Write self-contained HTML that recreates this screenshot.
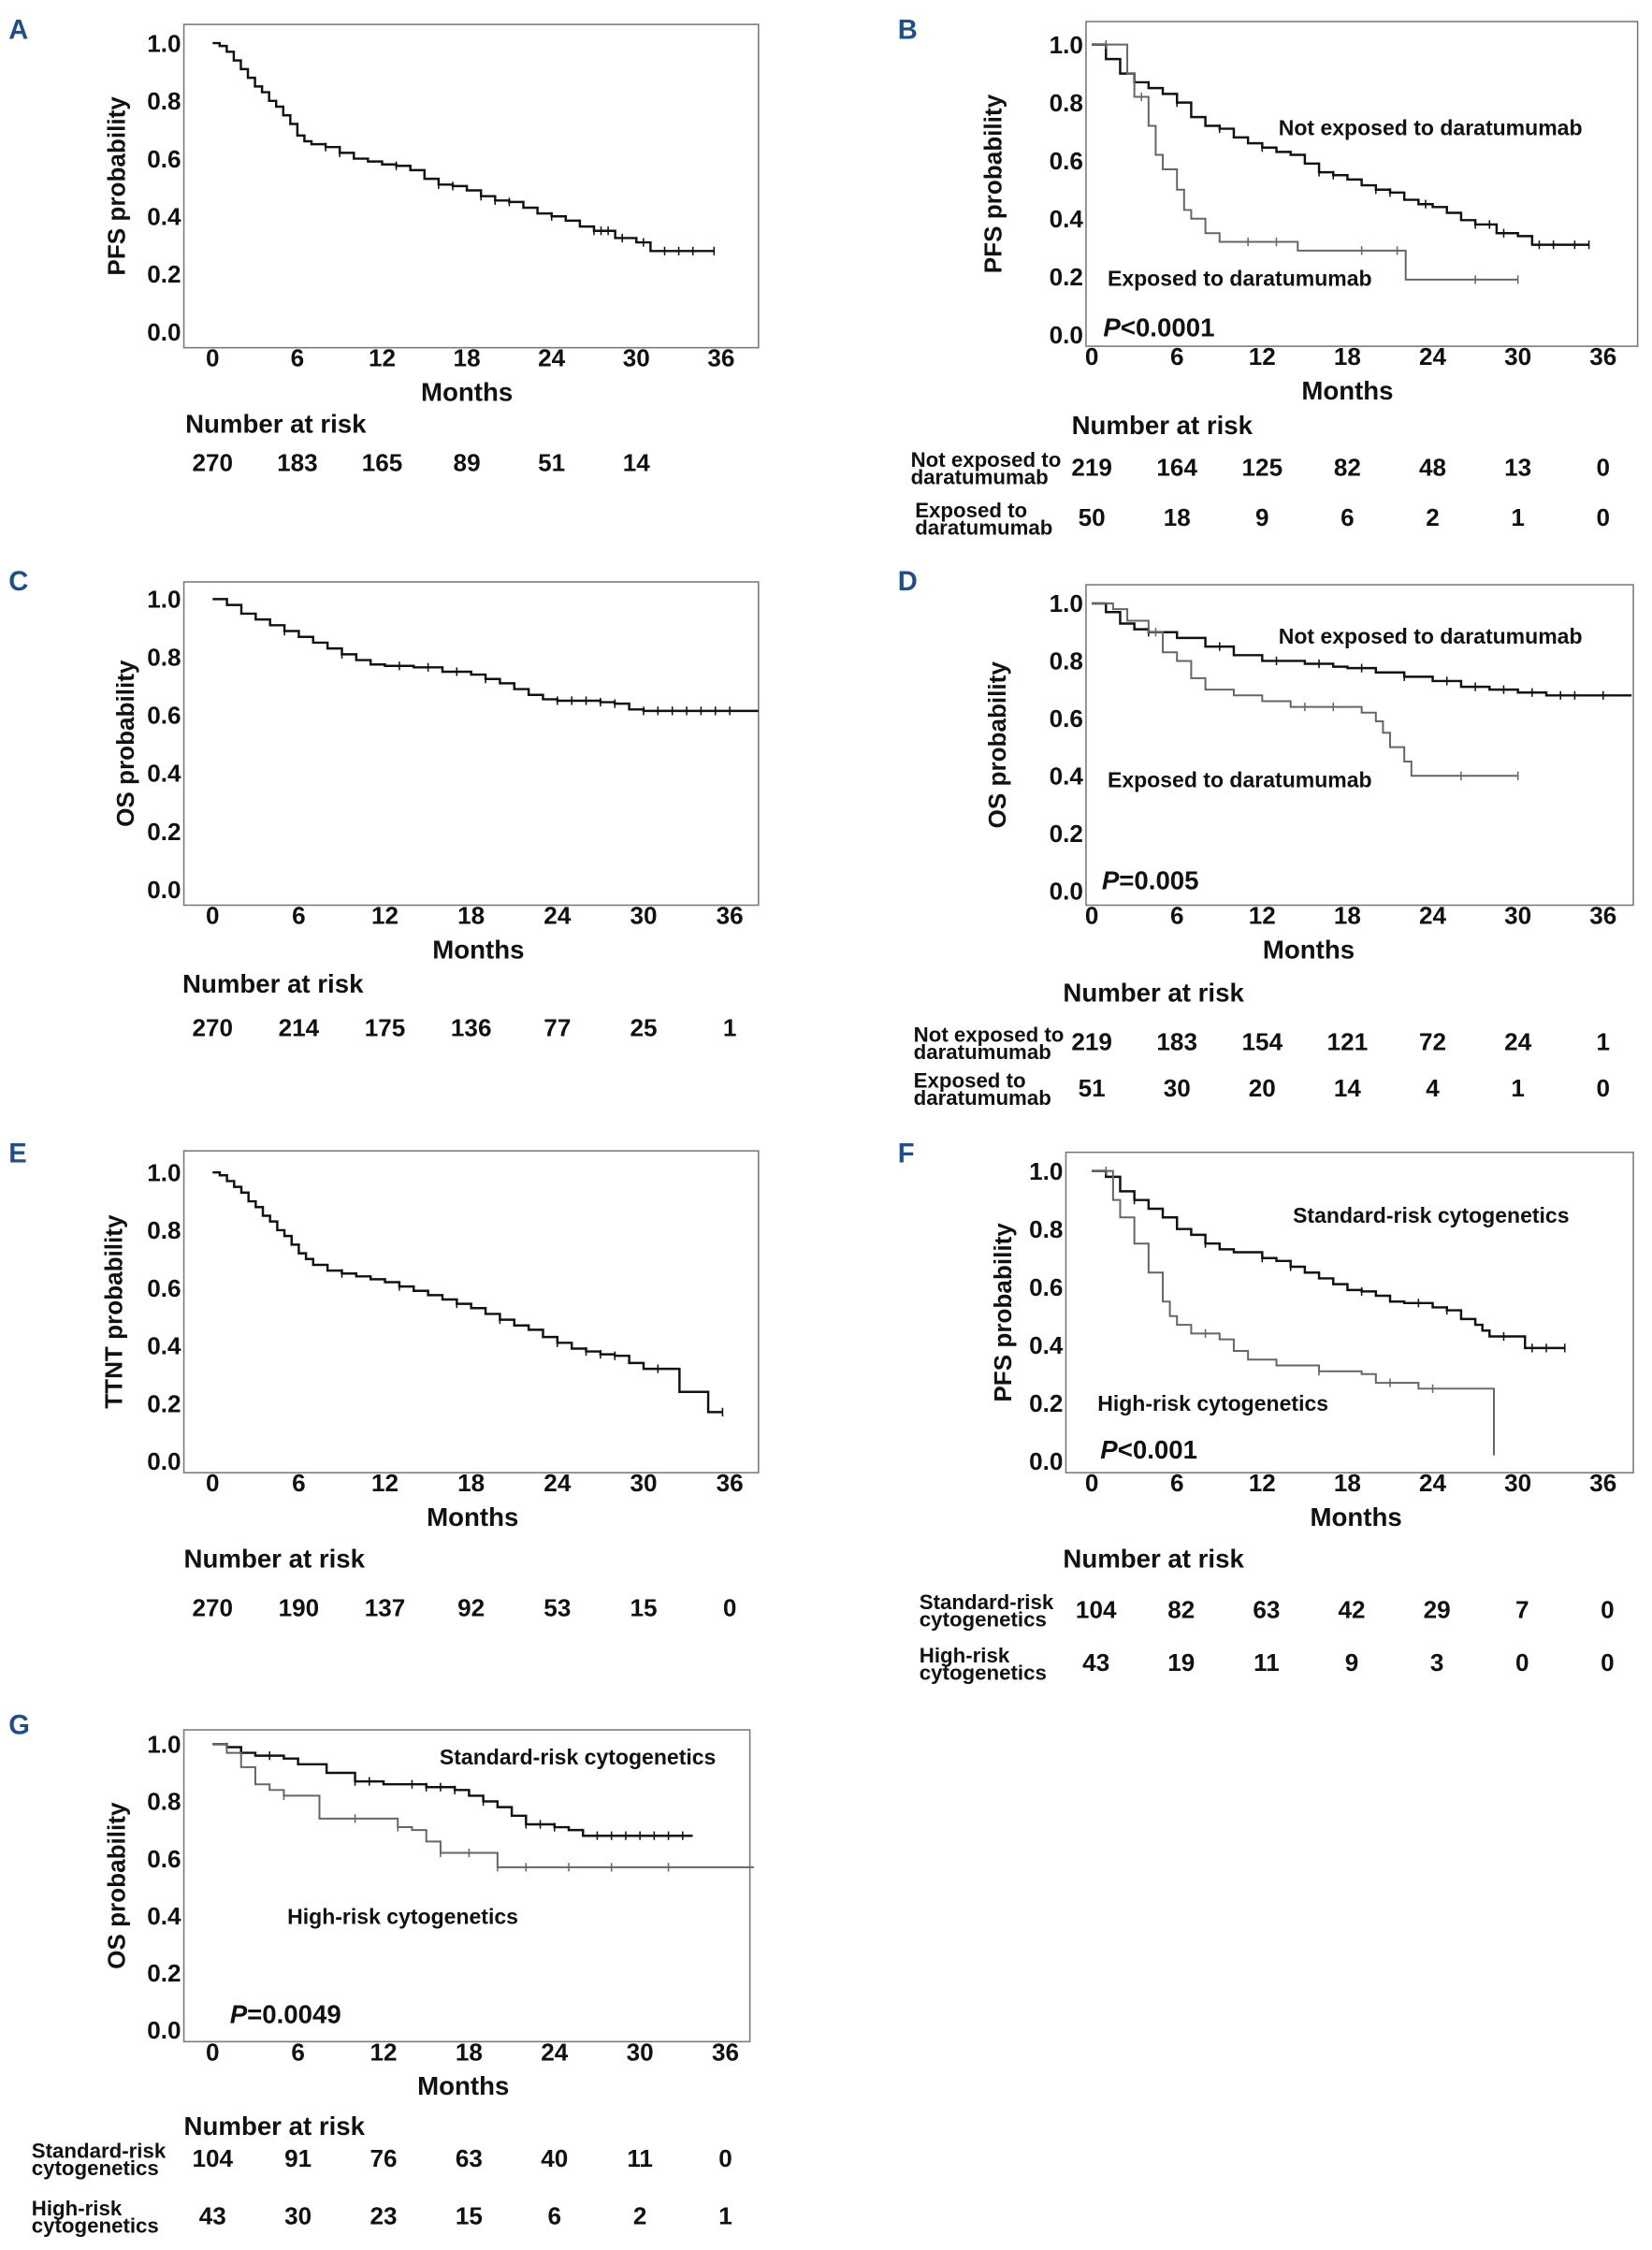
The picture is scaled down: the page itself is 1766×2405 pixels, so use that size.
<!DOCTYPE html>
<html><head><meta charset="utf-8"><style>
html,body{margin:0;padding:0;background:#fff;}
svg{display:block;}
.t{font-family:"Liberation Sans Narrow","Liberation Sans",sans-serif;font-weight:bold;fill:#111;}
.ti{font-family:"Liberation Sans",sans-serif;font-weight:bold;fill:#111;}
.lt{font-family:"Liberation Sans",sans-serif;font-weight:bold;fill:#1f4e8c;}
</style></head><body>
<svg id="fig" width="1766" height="2405" viewBox="0 0 1150 1566" preserveAspectRatio="none" xmlns="http://www.w3.org/2000/svg"></svg>
<script>
// ---- data ----
const monthTicks = [0,6,12,18,24,30,36];
const probTicks = [0,0.2,0.4,0.6,0.8,1.0];
const probTickLabels = ["0.0","0.2","0.4","0.6","0.8","1.0"];

const aT = [0,0.5,1,1.5,2,2.5,3,3.5,4,4.5,5,5.5,6,6.5,7,8,9,10,11,12,13,14,15,16,17,18,19,20,21,22,23,24,25,26,27,28.5,30,31,35.5];
const aS = [1,0.99,0.97,0.94,0.91,0.88,0.85,0.83,0.80,0.78,0.75,0.72,0.68,0.66,0.65,0.64,0.62,0.60,0.59,0.58,0.575,0.56,0.53,0.51,0.505,0.49,0.47,0.455,0.45,0.43,0.41,0.40,0.385,0.365,0.35,0.325,0.31,0.28,0.28];
const aC = [8,9,13,16,17,19,20,21,24,27,27.5,28,29,30.5,32,33,34,35.5];
const aRisk = [270,183,165,89,51,14];

const bNT = [0,1,2,3,4,5,6,7,8,9,10,11,12,13,14,15,16,17,18,19,20,21,22,23,24,25,26,27,28.5,30,31,35];
const bNS = [1,0.95,0.9,0.87,0.85,0.83,0.80,0.75,0.72,0.71,0.68,0.66,0.645,0.63,0.62,0.59,0.56,0.55,0.535,0.515,0.50,0.49,0.465,0.45,0.44,0.42,0.395,0.38,0.35,0.34,0.31,0.31];
const bNC = [6,9,12,16,17,20,21,23.5,27,28,29,31.5,32.5,34,35];
const bET = [0,2,2.5,3,4,4.5,5,6,6.5,7,8,9,14.5,22,22.1,30];
const bES = [1,1,0.9,0.82,0.72,0.62,0.57,0.5,0.43,0.40,0.35,0.32,0.29,0.29,0.19,0.19];
const bEC = [1,3.5,11,13,19,21.5,27,30];
const bRiskN = [219,164,125,82,48,13,0];
const bRiskE = [50,18,9,6,2,1,0];

const cT = [0,1,2,3,4,5,6,7,8,9,10,11,12,14,16,18,19,20,21,22,23,24,27,28,29,30,38];
const cS = [1,0.98,0.95,0.93,0.91,0.89,0.87,0.85,0.83,0.81,0.79,0.775,0.77,0.765,0.75,0.74,0.725,0.71,0.69,0.67,0.655,0.65,0.645,0.64,0.62,0.615,0.615];
const cC = [5,9,13,15,17,19,24,25,26,27,28,30,31,32,33,34,35,36];
const cRisk = [270,214,175,136,77,25,1];

const dNT = [0,1,2,3,4,6,8,10,12,15,17,18,20,22,24,26,28,30,32,38];
const dNS = [1,0.97,0.93,0.91,0.9,0.88,0.85,0.82,0.80,0.79,0.78,0.775,0.76,0.745,0.73,0.71,0.70,0.69,0.68,0.68];
const dNC = [4,9,13,16,19,22,25,27,29,31,33,34,36];
const dET = [0,1.5,2.5,4,5,6,7,8,10,12,14,17,19,20,20.5,21,22,22.5,30];
const dES = [1,0.98,0.94,0.9,0.83,0.8,0.74,0.70,0.68,0.66,0.64,0.64,0.62,0.59,0.55,0.50,0.45,0.40,0.40];
const dEC = [4.5,15,17,26,30];
const dRiskN = [219,183,154,121,72,24,1];
const dRiskE = [51,30,20,14,4,1,0];

const eT = [0,0.5,1,1.5,2,2.5,3,3.5,4,4.5,5,5.5,6,6.5,7,8,9,10,11,12,13,14,15,16,17,18,19,20,21,22,23,24,25,26,27,28,29,30,32.5,34.5,35.5];
const eS = [1,0.99,0.97,0.95,0.93,0.90,0.88,0.85,0.83,0.80,0.78,0.75,0.72,0.70,0.68,0.66,0.65,0.64,0.63,0.62,0.605,0.59,0.575,0.56,0.545,0.53,0.51,0.49,0.47,0.455,0.43,0.41,0.39,0.38,0.37,0.365,0.34,0.32,0.24,0.17,0.17];
const eC = [9,13,17,20,24,26,27,28,31,35.5];
const eRisk = [270,190,137,92,53,15,0];

const fST = [0,1,2,3,4,5,6,7,8,9,10,12,13,14,15,16,17,18,19,20,21,22,24,25,26,27,27.5,28,30.5,33.3];
const fSS = [1,0.98,0.93,0.90,0.87,0.84,0.80,0.78,0.75,0.73,0.72,0.70,0.69,0.67,0.65,0.63,0.61,0.59,0.585,0.57,0.55,0.545,0.53,0.52,0.49,0.47,0.45,0.43,0.39,0.39];
const fSC = [3,8,12,14,19,23,25,29,31,32,33.3];
const fHT = [0,1,1.5,2,3,4,5,5.5,6,7,9,10,11,13,16,19,20,23,28.3,28.31];
const fHS = [1,1,0.9,0.84,0.75,0.65,0.55,0.5,0.47,0.44,0.42,0.38,0.35,0.33,0.31,0.30,0.27,0.25,0.25,0.02];
const fHC = [1,8,16,21,24];
const fRiskS = [104,82,63,42,29,7,0];
const fRiskH = [43,19,11,9,3,0,0];

const gST = [0,1,2,3,5,6,8,10,12,15,17,18,19,20,21,22,24,25,26,33.7];
const gSS = [1,0.99,0.97,0.96,0.95,0.93,0.90,0.87,0.86,0.85,0.84,0.82,0.80,0.78,0.75,0.72,0.71,0.70,0.68,0.68];
const gSC = [1,4,10,11,14,15,16,17,19,22,23,24,27,28,29,30,31,32,33];
const gHT = [0,1,2,3,4,5,7,7.5,10,12,13,14,15,16,18,20,22,38];
const gHS = [1,0.97,0.92,0.86,0.84,0.82,0.82,0.74,0.74,0.74,0.71,0.70,0.66,0.62,0.62,0.57,0.57,0.57];
const gHC = [5,10,13,16,18,20,22,25,28,32];
const gRiskS = [104,91,76,63,40,11,0];
const gRiskH = [43,30,23,15,6,2,1];

// ---- drawing ----
const svg = document.getElementById('fig');
const NS = 'http://www.w3.org/2000/svg';
function el(tag, attrs, parent){
  const e = document.createElementNS(NS, tag);
  for (const k in attrs) e.setAttribute(k, attrs[k]);
  (parent||svg).appendChild(e);
  return e;
}
function txt(x,y,s,cls,size,anchor,parent,name){
  const t = el('text',{x:x,y:y,class:cls,'font-size':size,'text-anchor':anchor||'middle'},parent);
  t.textContent = s;
  
  
  return t;
}
function stepAt(T,S,m){let v=S[0];for(let i=0;i<T.length;i++){if(T[i]<=m)v=S[i];}return v;}

function panel(p){
  const g = el('g',{});
  
  
  const xs = m => p.x0 + (m/36)*(p.x36-p.x0);
  const ys = v => p.y0 - v*(p.y0-p.y1);
  txt(p.lx, p.ly, p.letter, 'lt', 19, 'start', g, 'panel-letter');
  const box = el('rect',{x:p.bx,y:p.by,width:p.bw,height:p.bh,fill:'none',stroke:'#777','stroke-width':1},g);
  
  
  probTicks.forEach((v,i)=>txt(p.bx-2, ys(v)+6, probTickLabels[i], 't', 17, 'end', g, 'y-tick-label'));
  monthTicks.forEach(m=>txt(xs(m), p.by+p.bh+13, String(m), 't', 17, 'middle', g, 'x-tick-label'));
  txt((p.x0+p.x36)/2+p.mOff, p.by+p.bh+37, 'Months', 't', 18, 'middle', g, 'x-axis-title');
  const yt = txt(0,0,p.ytitle,'ti',17,'middle',g,'y-axis-title');
  yt.setAttribute('transform','translate('+p.ytx+','+(p.by+p.bh/2)+') rotate(-90)');
  p.series.forEach(s=>{
    let d = 'M'+xs(s.T[0])+','+ys(s.S[0]);
    for(let i=1;i<s.T.length;i++){ d += ' H'+xs(s.T[i])+' V'+ys(s.S[i]); }
    const path = el('path',{d:d,fill:'none',stroke:s.color,'stroke-width':s.w},g);
    
    
    s.C.forEach(m=>{
      const cx = xs(m), cy = ys(stepAt(s.T,s.S,m));
      const c = el('path',{d:'M'+cx+','+(cy-3)+' V'+(cy+3),stroke:s.color,'stroke-width':1},g);
      
      
    });
  });
  (p.notes||[]).forEach(n=>{
    if(n.p){
      const t = el('text',{x:n.x,y:n.y,class:'t','font-size':18},g);
      
      
      const a = el('tspan',{'font-style':'italic'},t); a.textContent='P';
      const b = el('tspan',{},t); b.textContent=n.s;
    } else txt(n.x,n.y,n.s,'t',15,'start',g,'curve-label');
  });
  const riskY0 = p.by+p.bh+p.narOff;
  txt(p.narX, riskY0, 'Number at risk', 't', 18, 'start', g, 'number-at-risk-title');
  p.risk.forEach((r,ri)=>{
    const yy = riskY0 + r.dy;
    r.vals.forEach((v,i)=>txt(xs(monthTicks[i])+(r.xo||0), yy, String(v), 't', 17, 'middle', g, 'risk-count'));
    if(r.l1){
      txt(r.lx, yy-6, r.l1, 't', 14.5, 'start', g, 'risk-row-label');
      txt(r.lx, yy+6, r.l2, 't', 14.5, 'start', g, 'risk-row-label');
    }
  });
}

const dark='#111', grey='#666';
panel({letter:'A',lx:6,ly:27,bx:128,by:17,bw:400,bh:225,x0:148,x36:502,y0:231,y1:30,mOff:0,ytitle:'PFS probability',ytx:87,narX:129,narOff:59,
  series:[{T:aT,S:aS,C:aC,color:dark,w:1.6,name:'pfs-curve'}],
  risk:[{dy:27,vals:aRisk}]});
panel({letter:'B',lx:625,ly:27,bx:756,by:15,bw:384,bh:226,x0:760,x36:1116,y0:233,y1:31,mOff:0,ytitle:'PFS probability',ytx:697,narX:746,narOff:61,
  series:[{T:bNT,S:bNS,C:bNC,color:dark,w:1.6,name:'not-exposed-curve'},{T:bET,S:bES,C:bEC,color:grey,w:1.3,name:'exposed-curve'}],
  notes:[{x:890,y:94,s:'Not exposed to daratumumab'},{x:771,y:199,s:'Exposed to daratumumab'},{x:768,y:234,s:'<0.0001',p:1}],
  risk:[{dy:29,vals:bRiskN,l1:'Not exposed to',l2:'daratumumab',lx:634},{dy:64,vals:bRiskE,l1:'Exposed to',l2:'daratumumab',lx:637}]});
panel({letter:'C',lx:6,ly:411,bx:128,by:405,bw:400,bh:225,x0:148,x36:508,y0:619,y1:417,mOff:5,ytitle:'OS probability',ytx:93,narX:127,narOff:61,
  series:[{T:cT,S:cS,C:cC,color:dark,w:1.6,name:'os-curve'}],
  risk:[{dy:30,vals:cRisk}]});
panel({letter:'D',lx:625,ly:411,bx:756,by:407,bw:381,bh:223,x0:760,x36:1116,y0:620,y1:420,mOff:-27,ytitle:'OS probability',ytx:700,narX:740,narOff:67,
  series:[{T:dNT,S:dNS,C:dNC,color:dark,w:1.6,name:'not-exposed-curve'},{T:dET,S:dES,C:dEC,color:grey,w:1.3,name:'exposed-curve'}],
  notes:[{x:890,y:448,s:'Not exposed to daratumumab'},{x:771,y:548,s:'Exposed to daratumumab'},{x:767,y:619,s:'=0.005',p:1}],
  risk:[{dy:34,vals:dRiskN,l1:'Not exposed to',l2:'daratumumab',lx:636},{dy:66,vals:dRiskE,l1:'Exposed to',l2:'daratumumab',lx:636}]});
panel({letter:'E',lx:6,ly:809,bx:128,by:801,bw:400,bh:224,x0:148,x36:508,y0:1017,y1:816,mOff:1,ytitle:'TTNT probability',ytx:85,narX:128,narOff:66,
  series:[{T:eT,S:eS,C:eC,color:dark,w:1.6,name:'ttnt-curve'}],
  risk:[{dy:34,vals:eRisk}]});
panel({letter:'F',lx:625,ly:809,bx:742,by:802,bw:395,bh:223,x0:760,x36:1116,y0:1017,y1:815,mOff:6,ytitle:'PFS probability',ytx:704,narX:740,narOff:66,
  series:[{T:fST,S:fSS,C:fSC,color:dark,w:1.6,name:'standard-risk-curve'},{T:fHT,S:fHS,C:fHC,color:grey,w:1.3,name:'high-risk-curve'}],
  notes:[{x:900,y:851,s:'Standard-risk cytogenetics'},{x:764,y:982,s:'High-risk cytogenetics'},{x:766,y:1015,s:'<0.001',p:1}],
  risk:[{dy:35,vals:fRiskS,l1:'Standard-risk',l2:'cytogenetics',lx:640,xo:3},{dy:72,vals:fRiskH,l1:'High-risk',l2:'cytogenetics',lx:640,xo:3}]});
panel({letter:'G',lx:6,ly:1207,bx:128,by:1204,bw:394,bh:217,x0:148,x36:505,y0:1413,y1:1214,mOff:-4,ytitle:'OS probability',ytx:87,narX:128,narOff:65,
  series:[{T:gST,S:gSS,C:gSC,color:dark,w:1.6,name:'standard-risk-curve'},{T:gHT,S:gHS,C:gHC,color:grey,w:1.3,name:'high-risk-curve'}],
  notes:[{x:306,y:1228,s:'Standard-risk cytogenetics'},{x:200,y:1339,s:'High-risk cytogenetics'},{x:160,y:1408,s:'=0.0049',p:1}],
  risk:[{dy:22,vals:gRiskS,l1:'Standard-risk',l2:'cytogenetics',lx:22},{dy:62,vals:gRiskH,l1:'High-risk',l2:'cytogenetics',lx:22}]});
</script>
</body></html>
